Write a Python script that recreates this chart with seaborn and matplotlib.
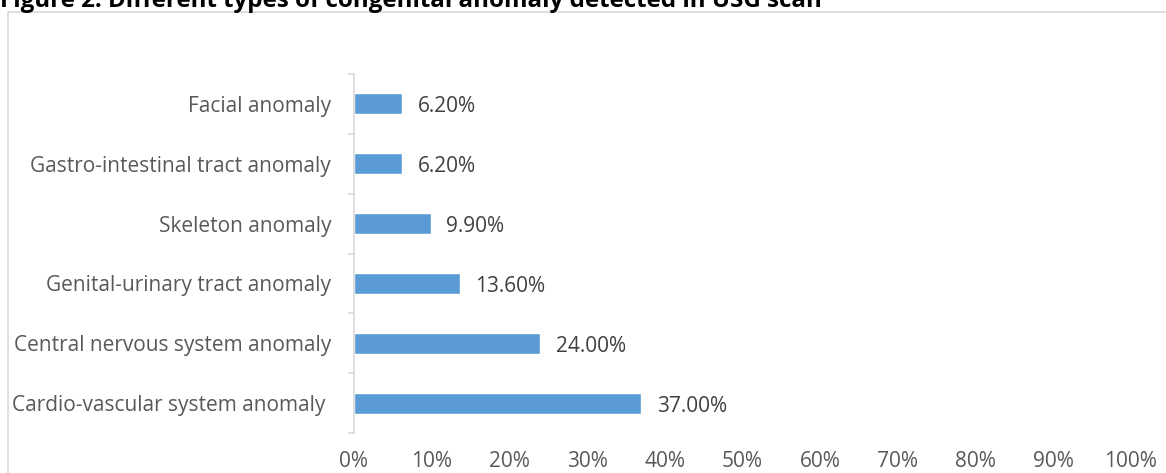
import matplotlib
matplotlib.use("Agg")
import matplotlib.pyplot as plt
from matplotlib.patches import Rectangle
import seaborn as sns
import pandas as pd

categories = [
    "Facial anomaly",
    "Gastro-intestinal tract anomaly",
    "Skeleton anomaly",
    "Genital-urinary tract anomaly",
    "Central nervous system anomaly",
    "Cardio-vascular system anomaly ",
]
percentages = [6.2, 6.2, 9.9, 13.6, 24.0, 37.0]
x_ticks = [0, 10, 20, 30, 40, 50, 60, 70, 80, 90, 100]

df = pd.DataFrame({"category": categories, "pct": percentages})

sns.set_style("white")
plt.rcParams["font.family"] = ["Open Sans", "DejaVu Sans"]

fig = plt.figure(figsize=(11.66, 4.73), dpi=100)
ax = fig.add_axes([354 / 1166, 1 - 433 / 473, 777 / 1166, (433 - 74) / 473])

sns.barplot(data=df, x="pct", y="category", color="#5b9bd5", width=0.35,
            saturation=1, ax=ax, orient="h")

# data labels
for i, v in enumerate(percentages):
    ax.text(v + 2.0, i + 0.05, f"{v:.2f}%", va="center", ha="left",
            fontsize=15, color="#404040")

ax.set_xlim(0, 100)
ax.set_ylim(len(categories) - 0.5, -0.5)
ax.set_xticks(x_ticks)
ax.set_xticklabels([f"{t}%" for t in x_ticks], fontsize=15, color="#595959")
ax.tick_params(axis="x", length=0, pad=13)
ax.set_yticks(range(len(categories)))
ax.set_yticklabels(categories, fontsize=15, color="#595959")
ax.tick_params(axis="y", which="major", left=False, length=0, pad=16.5)
ax.set_yticks([i - 0.5 for i in range(len(categories) + 1)], minor=True)
ax.tick_params(axis="y", which="minor", left=True, length=4.5,
               color="#d9d9d9", width=1.2)
ax.set_xlabel("")
ax.set_ylabel("")
for s in ["top", "right", "bottom"]:
    ax.spines[s].set_visible(False)
ax.spines["left"].set_color("#d9d9d9")
ax.spines["left"].set_linewidth(1.2)
ax.grid(False)

# chart border
fig.patches.append(Rectangle((8 / 1166, -0.05), 1.1, 1 - 12 / 473 + 0.05,
                             transform=fig.transFigure, fill=False,
                             edgecolor="#d9d9d9", linewidth=1.2))

fig.text(0.0, 1 - 7 / 473, "Figure 2: Different types of congenital anomaly detected in USG scan",
         fontsize=17.4, fontweight="bold", va="baseline", ha="left", color="#000000")

fig.savefig("out.png", dpi=100)
